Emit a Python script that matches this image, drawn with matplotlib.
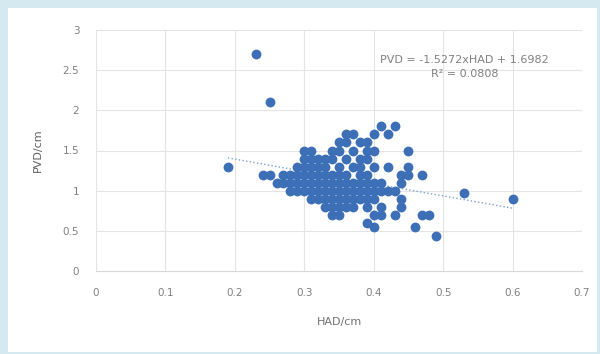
import matplotlib
matplotlib.use("Agg")
import matplotlib.pyplot as plt
from matplotlib.patches import Rectangle

# HAD / PVD measurements (cm)
had = [0.19, 0.23, 0.25, 0.24, 0.25, 0.26, 0.53, 0.60, 0.49, 0.46, 0.47, 0.48,
       0.47, 0.45, 0.42, 0.45, 0.41, 0.43, 0.40, 0.42, 0.39, 0.40, 0.43, 0.41,
       0.40, 0.44, 0.44, 0.43, 0.44, 0.44, 0.45, 0.42,
       0.27, 0.27, 0.28, 0.28, 0.28,
       0.29, 0.29, 0.29, 0.29,
       0.30, 0.30, 0.30, 0.30, 0.30, 0.30,
       0.31, 0.31, 0.31, 0.31, 0.31, 0.31, 0.31,
       0.32, 0.32, 0.32, 0.32, 0.32, 0.32,
       0.33, 0.33, 0.33, 0.33, 0.33, 0.33, 0.33,
       0.34, 0.34, 0.34, 0.34, 0.34, 0.34, 0.34, 0.34,
       0.35, 0.35, 0.35, 0.35, 0.35, 0.35, 0.35, 0.35, 0.35,
       0.36, 0.36, 0.36, 0.36, 0.36, 0.36, 0.36, 0.36,
       0.37, 0.37, 0.37, 0.37, 0.37, 0.37, 0.37,
       0.38, 0.38, 0.38, 0.38, 0.38, 0.38, 0.38,
       0.39, 0.39, 0.39, 0.39, 0.39, 0.39, 0.39, 0.39,
       0.40, 0.40, 0.40, 0.40, 0.40,
       0.41, 0.41, 0.41]
pvd = [1.3, 2.7, 2.1, 1.2, 1.2, 1.1, 0.97, 0.9, 0.44, 0.55, 0.7, 0.7,
       1.2, 1.5, 1.3, 1.3, 1.8, 1.8, 1.7, 1.7, 0.6, 0.55, 0.7, 0.8,
       0.7, 0.8, 0.9, 1.0, 1.1, 1.2, 1.2, 1.0,
       1.1, 1.2, 1.0, 1.1, 1.2,
       1.0, 1.1, 1.2, 1.3,
       1.0, 1.1, 1.2, 1.3, 1.4, 1.5,
       0.9, 1.0, 1.1, 1.2, 1.3, 1.4, 1.5,
       0.9, 1.0, 1.1, 1.2, 1.3, 1.4,
       0.8, 0.9, 1.0, 1.1, 1.2, 1.3, 1.4,
       0.7, 0.8, 0.9, 1.0, 1.1, 1.2, 1.4, 1.5,
       0.7, 0.8, 0.9, 1.0, 1.1, 1.2, 1.3, 1.5, 1.6,
       0.8, 0.9, 1.0, 1.1, 1.2, 1.4, 1.6, 1.7,
       0.8, 0.9, 1.0, 1.1, 1.3, 1.5, 1.7,
       0.9, 1.0, 1.1, 1.2, 1.3, 1.4, 1.6,
       0.8, 0.9, 1.0, 1.1, 1.2, 1.4, 1.5, 1.6,
       0.9, 1.0, 1.1, 1.3, 1.5,
       0.7, 1.0, 1.1]

slope = -1.5272
intercept = 1.6982
trend_x = [0.19, 0.60]
eq_text = "PVD = -1.5272xHAD + 1.6982"
r2_text = "R² = 0.0808"
x_ticks = [0, 0.1, 0.2, 0.3, 0.4, 0.5, 0.6, 0.7]
x_labels = ["0", "0.1", "0.2", "0.3", "0.4", "0.5", "0.6", "0.7"]
y_ticks = [0, 0.5, 1, 1.5, 2, 2.5, 3]
y_labels = ["0", "0.5", "1", "1.5", "2", "2.5", "3"]

fig = plt.figure(figsize=(6, 3.54), dpi=100, facecolor="#d5eaf0")
# white chart panel behind the axes
fig.patches.append(Rectangle((8/600, 2/354), 589/600, 344/354, transform=fig.transFigure,
                             facecolor="white", edgecolor="none", zorder=-10))

ax = fig.add_axes([96/600, 1-271/354, 486/600, 241/354])
ax.set_zorder(5)
ax.set_facecolor("white")
ax.scatter(had, pvd, s=50, color="#3d6fb6", zorder=3, linewidths=0)
ax.plot(trend_x, [slope*v + intercept for v in trend_x], color="#7f9fd0",
        lw=1, ls=":", zorder=2)

ax.set_xlim(0, 0.7)
ax.set_ylim(0, 3)
ax.set_xticks(x_ticks, x_labels)
ax.set_yticks(y_ticks, y_labels)
ax.grid(True, color="#e3e3e3", lw=0.8)
ax.set_axisbelow(True)
for s in ["top", "right", "left"]:
    ax.spines[s].set_visible(False)
ax.spines["bottom"].set_color("#d9d9d9")
ax.tick_params(length=0, labelsize=7.5, colors="#808080", pad=12)
ax.set_xlabel("HAD/cm", fontsize=8, color="#707070", labelpad=14)
ax.set_ylabel("PVD/cm", fontsize=8, color="#606060", labelpad=14)

ax.text(0.531, 2.54, eq_text + "\n" + r2_text, ha="center", va="center",
        fontsize=8, color="#808080", linespacing=1.5)

fig.savefig("out.png", dpi=100, facecolor=fig.get_facecolor())
